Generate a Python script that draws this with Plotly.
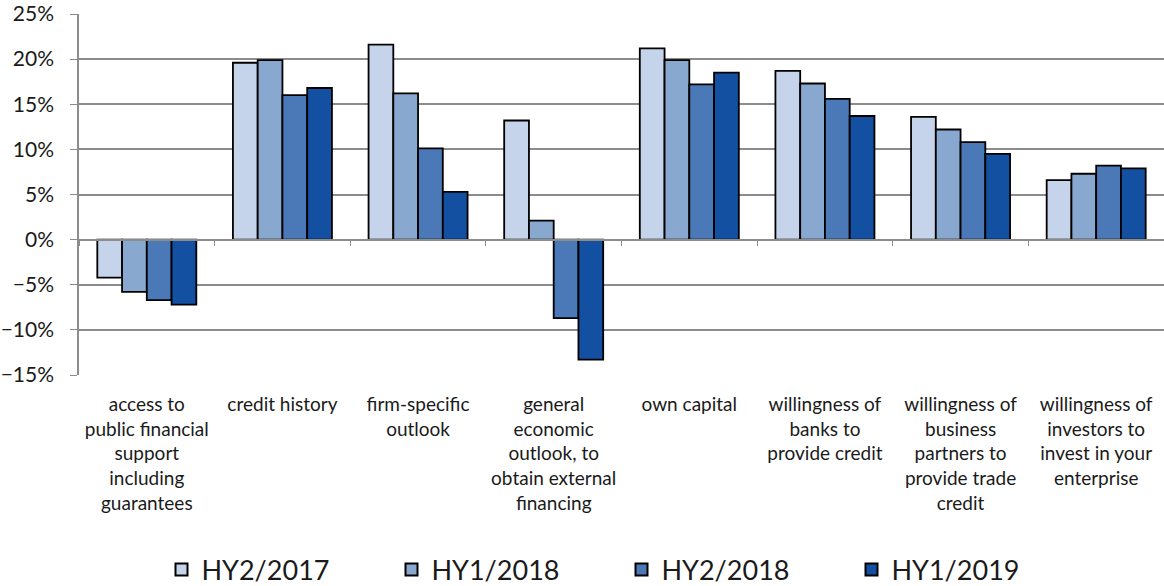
import plotly.graph_objects as go

categories = [
    "access to<br>public financial<br>support<br>including<br>guarantees",
    "credit history",
    "firm-specific<br>outlook",
    "general<br>economic<br>outlook, to<br>obtain external<br>financing",
    "own capital",
    "willingness of<br>banks to<br>provide credit",
    "willingness of<br>business<br>partners to<br>provide trade<br>credit",
    "willingness of<br>investors to<br>invest in your<br>enterprise",
]

hy2_2017 = [-4.2, 19.6, 21.6, 13.2, 21.2, 18.7, 13.6, 6.6]
hy1_2018 = [-5.8, 19.9, 16.2, 2.1, 19.9, 17.3, 12.2, 7.3]
hy2_2018 = [-6.7, 16.0, 10.1, -8.7, 17.2, 15.6, 10.8, 8.2]
hy1_2019 = [-7.2, 16.8, 5.3, -13.3, 18.5, 13.7, 9.5, 7.9]

series = [
    ("HY2/2017", hy2_2017, "#C5D4EA"),
    ("HY1/2018", hy1_2018, "#88A8D0"),
    ("HY2/2018", hy2_2018, "#4B79B7"),
    ("HY1/2019", hy1_2019, "#1350A2"),
]

y_range = [-15, 25]
font_family = "Lato, 'Open Sans', sans-serif"
grid_color = "#8C8C8C"

fig = go.Figure()
for name, vals, color in series:
    fig.add_trace(go.Bar(
        x=categories,
        y=[v / 100 for v in vals],
        name=name,
        marker=dict(color=color, line=dict(color="black", width=1.8)),
    ))

# invisible trace to carry the axis drawn at the zero line
fig.add_trace(go.Scatter(x=categories, y=[None] * len(categories), xaxis="x2",
                         showlegend=False, hoverinfo="skip"))

zero_pos = (0 - y_range[0]) / (y_range[1] - y_range[0])

fig.update_layout(
    width=1164,
    height=586,
    margin=dict(l=79, r=0, t=14, b=211, autoexpand=False),
    plot_bgcolor="white",
    paper_bgcolor="white",
    barmode="group",
    bargap=0.27,
    bargroupgap=0,
    font=dict(family=font_family, color="#1a1a1a"),
    xaxis=dict(
        showgrid=False,
        showline=False,
        ticks="",
        automargin=False,
        ticklabelstandoff=16,
        tickfont=dict(size=19),
    ),
    xaxis2=dict(
        overlaying="x",
        matches="x",
        anchor="free",
        position=zero_pos,
        showline=True,
        linecolor=grid_color,
        linewidth=1.5,
        ticks="outside",
        tickson="boundaries",
        ticklen=6,
        tickcolor=grid_color,
        showticklabels=False,
        showgrid=False,
    ),
    yaxis=dict(
        range=[y_range[0] / 100, y_range[1] / 100],
        dtick=0.05,
        tickformat=".0%",
        automargin=False,
        showgrid=True,
        gridcolor=grid_color,
        gridwidth=1.5,
        zeroline=True,
        zerolinecolor=grid_color,
        zerolinewidth=1.5,
        showline=True,
        linecolor=grid_color,
        linewidth=1.5,
        ticks="outside",
        ticklen=7,
        tickcolor=grid_color,
        ticklabelstandoff=12,
        tickfont=dict(size=21),
    ),
    legend=dict(
        orientation="h",
        x=0.5,
        xanchor="center",
        y=-0.54,
        yanchor="middle",
        font=dict(size=27),
        entrywidth=185,
        itemsizing="constant",
    ),
)

# drop the default page margin so the figure fills the window exactly
fig.write_html("out.html", config={"displayModeBar": False},
               post_script="document.body.style.margin = '0';")
